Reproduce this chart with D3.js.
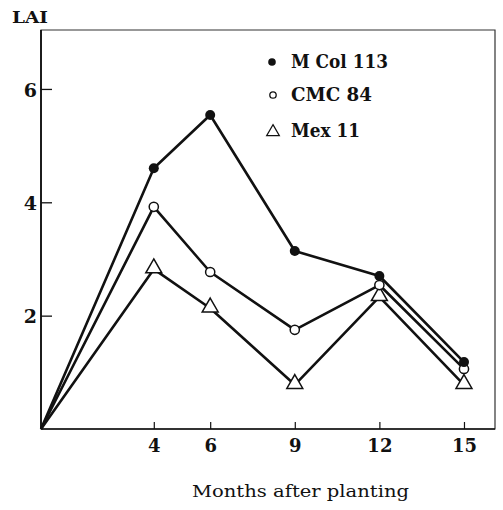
<!DOCTYPE html>
<html>
<head>
<meta charset="utf-8">
<script src="https://cdn.jsdelivr.net/npm/d3@7"></script>
<style>
  html, body { margin: 0; padding: 0; background: #fff; }
  svg { display: block; }
  text { font-family: "DejaVu Serif", "Liberation Serif", serif; fill: #111; }
</style>
</head>
<body>
<svg id="chart" width="503" height="510"></svg>
<script>
// Leaf area index over months after planting, three cassava cultivars
const months = [0, 4, 6, 9, 12, 15];
const mcol113 = [0, 4.6, 5.54, 3.14, 2.7, 1.18];
const cmc84   = [0, 3.92, 2.77, 1.75, 2.54, 1.06];
const mex11   = [0, 2.82, 2.13, 0.78, 2.33, 0.78];
const seriesNames = ["M Col 113", "CMC 84", "Mex 11"];
const xTicks = [4, 6, 9, 12, 15];
const yTicks = [2, 4, 6];

const svg = d3.select("#chart");
const plotLeft = 41, plotRight = 495, plotTop = 30, plotBottom = 429;

const x = d3.scaleLinear().domain([0, 16.1]).range([plotLeft, plotRight]);
const y = d3.scaleLinear().domain([0, 7.04]).range([plotBottom, plotTop]);

// frame
svg.append("path")
  .attr("d", `M${plotLeft},${plotBottom}V${plotTop}H${plotRight}V${plotBottom}Z`)
  .attr("fill", "none").attr("stroke", "#333").attr("stroke-width", 1.2);
svg.append("line").attr("x1", plotLeft).attr("x2", plotRight).attr("y1", plotBottom).attr("y2", plotBottom)
  .attr("stroke", "#111").attr("stroke-width", 1.6);
svg.append("line").attr("x1", plotLeft).attr("x2", plotLeft).attr("y1", plotBottom).attr("y2", plotTop)
  .attr("stroke", "#111").attr("stroke-width", 1.8);

// y axis: inward ticks
const yAxis = d3.axisRight(y).tickValues(yTicks).tickSize(11).tickFormat(d3.format("d"));
const gy = svg.append("g").attr("transform", `translate(${plotLeft},0)`).call(yAxis);
gy.select(".domain").remove();
gy.selectAll(".tick line").attr("stroke", "#111").attr("stroke-width", 1.3);
gy.selectAll(".tick text").attr("x", -4).attr("dy", "0.38em").attr("text-anchor", "end")
  .style("font-size", "19px").style("font-weight", "bold").attr("fill", "#111");

// x axis: inward ticks, labels below
const xAxis = d3.axisTop(x).tickValues(xTicks).tickSize(7).tickFormat(d3.format("d"));
const gx = svg.append("g").attr("transform", `translate(0,${plotBottom})`).call(xAxis);
gx.select(".domain").remove();
gx.selectAll(".tick line").attr("stroke", "#111").attr("stroke-width", 1.2);
gx.selectAll(".tick text").attr("y", 23).attr("dy", 0)
  .style("font-size", "18px").style("font-weight", "bold").attr("fill", "#111");

// axis titles
svg.append("text").attr("x", 12).attr("y", 23).text("LAI")
  .attr("textLength", 36).attr("lengthAdjust", "spacingAndGlyphs")
  .style("font-size", "17px").style("font-weight", "bold");
svg.append("text").attr("x", 192).attr("y", 497)
  .attr("textLength", 217).attr("lengthAdjust", "spacingAndGlyphs")
  .text("Months after planting").style("font-size", "16px");

// lines
const line = d3.line().x((d, i) => x(months[i])).y(d => y(d));
const allSeries = [mcol113, cmc84, mex11];
allSeries.forEach(s => {
  svg.append("path").datum(s).attr("d", line)
    .attr("fill", "none").attr("stroke", "#111").attr("stroke-width", 2.6)
    .attr("stroke-linejoin", "round");
});

// markers (first point is the shared origin, not marked)
const tri = d3.symbol().type(d3.symbolTriangle).size(110);
svg.append("g").selectAll("path").data(mex11.slice(1)).join("path")
  .attr("d", tri)
  .attr("transform", (d, i) => `translate(${x(months[i + 1])},${y(d) - 1})`)
  .attr("fill", "#fff").attr("stroke", "#111").attr("stroke-width", 1.5);
svg.append("g").selectAll("circle").data(cmc84.slice(1)).join("circle")
  .attr("cx", (d, i) => x(months[i + 1])).attr("cy", d => y(d)).attr("r", 4.6)
  .attr("fill", "#fff").attr("stroke", "#111").attr("stroke-width", 1.5);
svg.append("g").selectAll("circle").data(mcol113.slice(1)).join("circle")
  .attr("cx", (d, i) => x(months[i + 1])).attr("cy", d => y(d)).attr("r", 5)
  .attr("fill", "#111");

// legend
const lg = svg.append("g");
const ly = [62, 95, 131];
lg.append("circle").attr("cx", 272).attr("cy", ly[0]).attr("r", 3.8).attr("fill", "#111");
lg.append("circle").attr("cx", 273).attr("cy", ly[1]).attr("r", 3.2).attr("fill", "#fff")
  .attr("stroke", "#111").attr("stroke-width", 1.3);
lg.append("path").attr("d", d3.symbol().type(d3.symbolTriangle).size(70))
  .attr("transform", `translate(273,${ly[2] + 1})`)
  .attr("fill", "#fff").attr("stroke", "#111").attr("stroke-width", 1.2);
const legendWidths = [97, 81, 69];
lg.selectAll("text.leg").data(seriesNames).join("text").attr("class", "leg")
  .attr("x", 291).attr("y", (d, i) => ly[i] + 6)
  .attr("textLength", (d, i) => legendWidths[i]).attr("lengthAdjust", "spacingAndGlyphs")
  .text(d => d)
  .style("font-size", "18px").style("font-weight", "bold");
</script>
</body>
</html>
